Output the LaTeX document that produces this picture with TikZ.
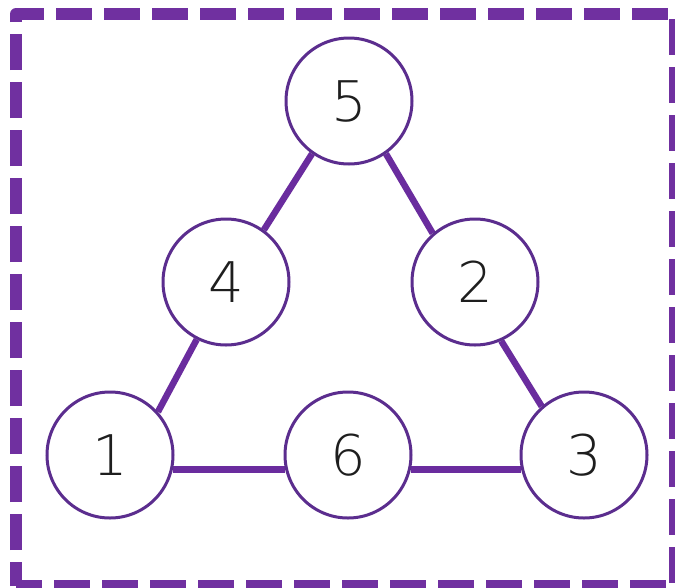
\documentclass[tikz,border=0pt]{standalone}
\usepackage{fontspec}
\setmainfont{Open Sans}
\newfontfamily\digitfont{DejaVu Sans ExtraLight}
\usetikzlibrary{backgrounds}
\definecolor{border}{HTML}{7030A0}
\definecolor{ring}{HTML}{5B2D8E}
\definecolor{link}{HTML}{6A2C9E}
\definecolor{digit}{HTML}{1E1E1E}
\tikzset{
  numnode/.style={circle, draw=ring, line width=3pt, fill=white, minimum size=126pt, inner sep=0pt,
    text=digit, font=\digitfont\fontsize{56}{56}\selectfont},
  linkline/.style={draw=link, line width=6.5pt},
  frame/.style={draw=border, line width=12pt, dash pattern=on 36pt off 12pt, dash phase=12pt, line join=round}
}
\begin{document}
\begin{tikzpicture}[x=1pt,y=-1pt]
\useasboundingbox (0,0) rectangle (675,587);
\draw[frame] (16,586) -- (16,14) -- (675,14) -- (675,586) -- cycle;
\node[numnode] (n5) at (349,101) {5};
\node[numnode] (n4) at (226,282) {4};
\node[numnode] (n2) at (475,282) {2};
\node[numnode] (n1) at (110,455) {1};
\node[numnode] (n6) at (348,455) {6};
\node[numnode] (n3) at (584,455) {3};
\begin{scope}[on background layer]
\fill[white] (0,0) rectangle (675,587);
\draw[linkline] (n5.-125) -- (n4.54);
\draw[linkline] (n5.-55) -- (n2.131);
\draw[linkline] (n4.-117) -- (n1.42);
\draw[linkline] (n2.-66) -- (n3.131);
\draw[linkline] (n1.-13) -- (n6.-167);
\draw[linkline] (n6.-13) -- (n3.193);
\end{scope}
\end{tikzpicture}
\end{document}
